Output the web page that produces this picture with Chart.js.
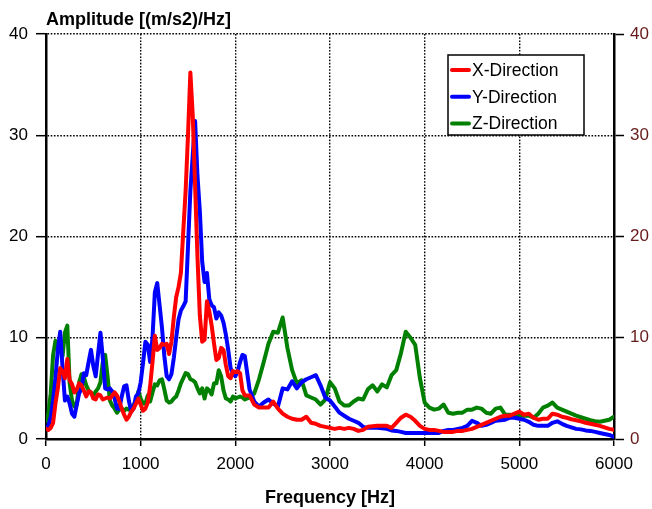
<!DOCTYPE html>
<html>
<head>
<meta charset="utf-8">
<script src="https://cdn.jsdelivr.net/npm/chart.js@4.4.0/dist/chart.umd.min.js"></script>
<style>
  body { margin: 0; background: #fff; }
  #wrap { width: 652px; height: 509px; }
</style>
</head>
<body>
<div id="wrap"><canvas id="spectrum" width="652" height="509"></canvas></div>
<script>
// frequency grid: 25 Hz up to 2100 Hz, 50 Hz above
const freqHz = [
  0, 25, 50, 75, 100, 125, 150, 175, 200, 225, 250, 275, 300, 325, 350, 375, 400, 425, 450, 475,
  500, 525, 550, 575, 600, 625, 650, 675, 700, 725, 750, 775, 800, 825, 850, 875, 900, 925, 950, 975,
  1000, 1025, 1050, 1075, 1100, 1125, 1150, 1175, 1200, 1225, 1250, 1275, 1300, 1325, 1350, 1375, 1400, 1425, 1450, 1475,
  1500, 1525, 1550, 1575, 1600, 1625, 1650, 1675, 1700, 1725, 1750, 1775, 1800, 1825, 1850, 1875, 1900, 1925, 1950, 1975,
  2000, 2025, 2050, 2075, 2100,
  2150, 2200, 2250, 2300, 2350, 2400, 2450, 2500, 2550, 2600, 2650, 2700, 2750, 2800, 2850, 2900, 2950, 3000,
  3050, 3100, 3150, 3200, 3250, 3300, 3350, 3400, 3450, 3500, 3550, 3600, 3650, 3700, 3750, 3800, 3850, 3900, 3950, 4000,
  4050, 4100, 4150, 4200, 4250, 4300, 4350, 4400, 4450, 4500, 4550, 4600, 4650, 4700, 4750, 4800, 4850, 4900, 4950, 5000,
  5050, 5100, 5150, 5200, 5250, 5300, 5350, 5400, 5450, 5500, 5550, 5600, 5650, 5700, 5750, 5800, 5850, 5900, 5950, 6000
];

const ampX = [
  1.0, 0.9, 1.1, 1.6, 3.5, 5.0, 7.0, 6.7, 6.0, 7.9, 5.8, 5.4, 4.6, 4.9, 5.5, 5.3, 4.8, 4.2, 4.7, 4.6,
  4.0, 3.9, 4.4, 4.3, 3.9, 4.0, 4.1, 4.0, 4.3, 4.6, 4.3, 3.7, 3.0, 2.4, 1.9, 2.2, 2.7, 3.0, 3.5, 4.0,
  3.4, 2.8, 3.0, 3.6, 5.2, 7.6, 10.2, 8.8, 9.0, 9.4, 9.3, 9.4, 8.4, 9.6, 12.0, 14.0, 15.0, 16.4, 20.5, 24.5,
  30.0, 36.2, 32.0, 25.0, 18.0, 12.2, 9.6, 9.8, 13.6, 12.6, 11.2, 9.4, 7.8, 8.0, 9.0, 8.8, 7.3, 6.2, 6.0, 6.7,
  6.6, 6.7, 6.5, 4.8, 4.3,
  4.3, 3.4, 3.1, 3.1, 3.1, 3.7, 3.0, 2.5, 2.2, 2.0, 1.9, 1.9, 2.2, 1.6, 1.5, 1.3, 1.2, 1.1,
  1.0, 1.1, 1.0, 1.1, 1.0, 0.8, 0.9, 1.2, 1.25, 1.3, 1.3, 1.3, 1.1, 1.6, 2.1, 2.4, 2.2, 1.8, 1.3, 1.0,
  0.9, 0.9, 0.8, 0.7, 0.7, 0.7, 0.8, 0.8, 0.9, 1.0, 1.2, 1.4, 1.6, 1.8, 2.0, 2.2, 2.3, 2.3, 2.5, 2.7,
  2.4, 2.5, 2.1, 1.9, 2.0, 2.0, 2.5, 2.4, 2.2, 2.1, 1.95, 1.85, 1.75, 1.6, 1.5, 1.4, 1.3, 1.15, 1.0, 0.9
];

const ampY = [
  1.1, 1.3, 2.2, 3.8, 6.0, 8.8, 10.6, 7.0, 3.8, 4.2, 3.5, 2.5, 2.2, 3.4, 4.5, 5.0, 6.5, 6.3, 7.6, 8.8,
  7.2, 6.2, 8.4, 10.5, 8.0, 5.0, 4.9, 5.0, 4.7, 4.0, 3.0, 3.0, 4.2, 5.2, 5.3, 3.8, 2.7, 3.0, 4.2, 4.5,
  5.6, 7.5, 9.6, 9.3, 7.6, 10.0, 14.5, 15.4, 13.2, 11.0, 8.2, 6.2, 5.9, 6.4, 8.0, 10.0, 11.8, 12.7, 13.1, 13.6,
  19.0, 24.5, 28.0, 31.4, 26.0, 22.5, 17.5, 15.5, 16.4, 13.8, 13.2, 13.0, 11.9, 12.5, 12.2, 11.5, 10.3, 8.8, 7.0, 6.5,
  6.2, 6.7, 7.6, 8.3, 8.2,
  4.9, 3.7, 3.2, 3.6, 3.9, 3.5, 3.2, 5.0, 4.9, 5.7, 5.0, 5.6, 5.9, 6.1, 6.3, 5.3, 4.1, 3.8,
  3.2, 2.6, 2.3, 2.0, 1.8, 1.6, 1.2, 1.1, 1.1, 1.1, 1.05, 1.0, 0.85, 0.8, 0.7, 0.6, 0.6, 0.6, 0.6, 0.6,
  0.6, 0.6, 0.6, 0.8, 0.9, 0.9, 1.0, 1.1, 1.3, 1.8, 1.6, 1.3, 1.4, 1.6, 1.8, 1.85, 1.9, 2.1, 2.1, 2.0,
  1.9, 1.7, 1.4, 1.3, 1.3, 1.3, 1.6, 1.75, 1.5, 1.3, 1.15, 1.0, 0.95, 0.85, 0.8, 0.7, 0.6, 0.5, 0.4, 0.2
];

const ampZ = [
  1.8, 2.5, 4.5, 8.3, 9.7, 9.0, 9.3, 8.2, 10.5, 11.2, 5.5, 3.8, 3.2, 3.4, 5.6, 6.4, 6.1, 5.3, 4.8, 4.6,
  4.3, 4.7, 5.0, 5.6, 7.6, 8.3, 6.2, 3.8, 3.3, 3.0, 2.6, 2.9, 3.0, 2.8, 3.0, 2.9, 3.0, 3.4, 3.6, 4.7,
  4.0, 3.5, 3.5, 4.3, 3.7, 4.6, 5.4, 5.3, 5.8, 5.9, 4.9, 3.8, 3.6, 3.7, 4.0, 4.2, 4.8, 5.5, 6.0, 6.5,
  6.4, 5.9, 5.8, 5.6, 5.0, 4.5, 5.0, 4.0, 5.0, 4.8, 4.4, 5.5, 5.5, 6.8, 6.2, 4.8, 4.0, 3.9, 3.7, 4.2,
  4.0, 4.1, 4.2, 4.1, 3.9,
  4.1, 4.5, 5.9, 7.6, 9.4, 10.6, 10.5, 12.0, 9.0, 6.8, 5.5, 5.8, 4.3, 4.1, 3.9, 3.4, 3.9, 5.6,
  5.0, 3.7, 3.3, 3.3, 3.7, 4.0, 3.9, 4.9, 5.3, 4.7, 5.4, 5.1, 6.3, 6.8, 8.5, 10.6, 10.0, 9.3, 6.0, 3.6,
  3.1, 2.9, 3.0, 3.4, 2.6, 2.5, 2.6, 2.6, 2.9, 2.9, 3.1, 3.0, 2.6, 2.5, 3.0, 3.1, 2.4, 2.4, 2.3, 2.3,
  2.3, 2.3, 2.1, 2.5, 3.1, 3.3, 3.6, 3.1, 2.9, 2.7, 2.5, 2.3, 2.15, 2.0, 1.85, 1.75, 1.7, 1.8, 1.9, 2.2
];

const seriesNames = ['X-Direction', 'Y-Direction', 'Z-Direction'];
const seriesColors = ['#ff0000', '#0000ff', '#008000'];
const seriesAmps = [ampX, ampY, ampZ];

const FONT = '"Liberation Sans", Arial, Helvetica, sans-serif';

const toPoints = (amps) => freqHz.map((f, i) => ({ x: f, y: amps[i] }));
const plainNumber = (v) => String(v);

// legend drawn as a framed box inside the plot, top right
const boxLegend = {
  id: 'boxLegend',
  afterDatasetsDraw(chart) {
    const ctx = chart.ctx;
    const x0 = 448, y0 = 55, w = 136, h = 80;
    ctx.save();
    ctx.fillStyle = '#fff';
    ctx.fillRect(x0, y0, w, h);
    ctx.lineWidth = 1.5;
    ctx.strokeStyle = '#000';
    ctx.strokeRect(x0, y0, w, h);
    ctx.font = '17.5px ' + FONT;
    ctx.textBaseline = 'middle';
    ctx.textAlign = 'left';
    chart.data.datasets.forEach((ds, i) => {
      const y = 70 + i * 26.7;
      ctx.strokeStyle = ds.borderColor;
      ctx.lineWidth = 4;
      ctx.lineCap = 'round';
      ctx.beginPath();
      ctx.moveTo(452, y);
      ctx.lineTo(469, y);
      ctx.stroke();
      ctx.fillStyle = '#000';
      ctx.fillText(ds.label, 472, y + 1);
    });
    ctx.restore();
  }
};

const ctx = document.getElementById('spectrum').getContext('2d');
const spectrumChart = new Chart(ctx, {
  type: 'line',
  data: {
    datasets: seriesNames.map((name, i) => ({
      label: name,
      data: toPoints(seriesAmps[i]),
      borderColor: seriesColors[i],
      backgroundColor: seriesColors[i],
      borderWidth: 4,
      pointRadius: 0,
      tension: 0,
      borderJoinStyle: 'round',
      borderCapStyle: 'round',
      yAxisID: 'y'
    }))
  },
  options: {
    responsive: false,
    animation: false,
    events: [],
    layout: { padding: 0 },
    plugins: {
      legend: { display: false },
      tooltip: { enabled: false },
      title: {
        display: true,
        text: 'Amplitude [(m/s2)/Hz]',
        align: 'start',
        fullSize: false,
        color: '#000',
        font: { family: FONT, size: 18, weight: 'bold' },
        padding: { top: 9.5, bottom: 2.9 }
      }
    },
    scales: {
      x: {
        type: 'linear',
        min: 0,
        max: 6000,
        afterFit: (s) => { s.height = 70; },
        ticks: {
          stepSize: 1000,
          color: '#000',
          padding: 8,
          maxRotation: 0,
          callback: plainNumber,
          font: { family: FONT, size: 17 }
        },
        grid: {
          color: '#000',
          lineWidth: 1.4,
          tickLength: 7,
          tickWidth: 1.5,
          tickColor: '#000'
        },
        border: { display: true, color: '#000', width: 2.5, dash: [1.6, 1.6] },
        title: {
          display: true,
          text: 'Frequency [Hz]',
          color: '#000',
          font: { family: FONT, size: 18, weight: 'bold' },
          padding: { top: 0, bottom: 0.5 }
        }
      },
      y: {
        position: 'left',
        min: 0,
        max: 40,
        afterFit: (s) => { s.width = 46; },
        ticks: {
          stepSize: 10,
          color: '#000',
          padding: 8,
          callback: plainNumber,
          font: { family: FONT, size: 17 }
        },
        grid: {
          color: '#000',
          lineWidth: 1.4,
          tickLength: 10,
          tickWidth: 1.5,
          tickColor: '#000'
        },
        border: { display: true, color: '#000', width: 2.5, dash: [1.6, 1.6] }
      },
      yRight: {
        position: 'right',
        min: 0,
        max: 40,
        afterFit: (s) => { s.width = 38; },
        ticks: {
          stepSize: 10,
          color: '#661a1a',
          padding: 6,
          callback: plainNumber,
          font: { family: FONT, size: 17 }
        },
        grid: {
          drawOnChartArea: false,
          tickLength: 10,
          tickWidth: 1.5,
          tickColor: '#000'
        },
        border: { display: true, color: '#000', width: 2.5 }
      }
    }
  },
  plugins: [boxLegend]
});
</script>
</body>
</html>
